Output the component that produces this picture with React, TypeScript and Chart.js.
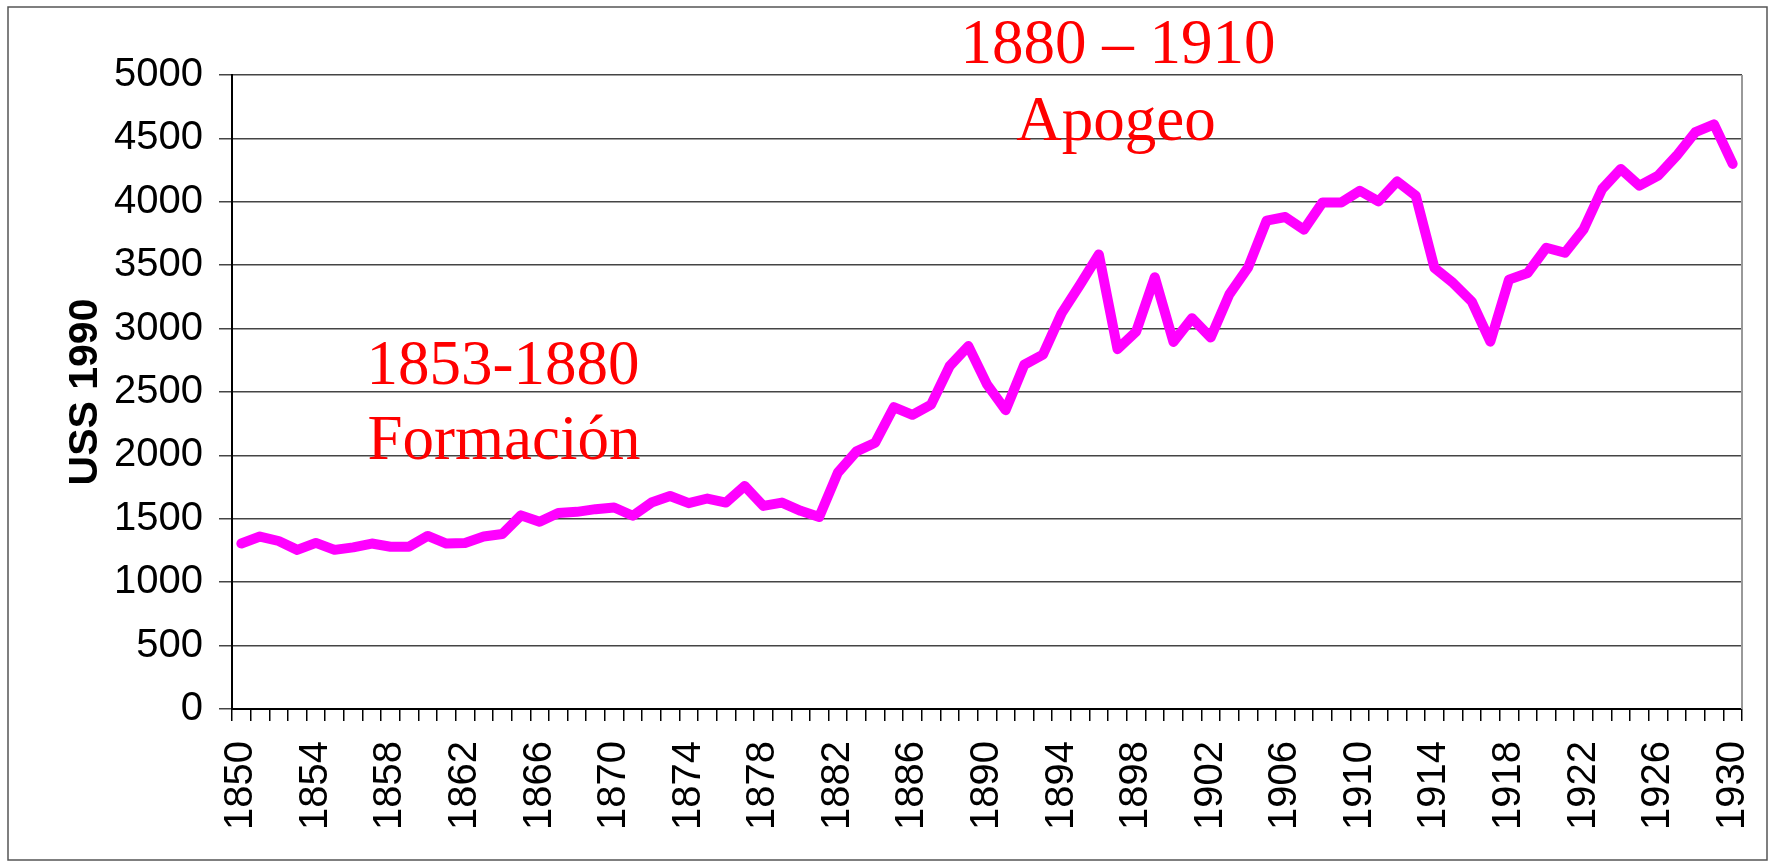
import React, { useEffect, useRef } from "react";
import { Chart, registerables } from "chart.js";

Chart.register(...registerables);

const years: number[] = [];
for (let y = 1850; y <= 1930; y++) years.push(y);

const gdpPerCapita: number[] = [
  1305, 1360, 1325, 1255, 1310, 1255, 1275, 1305, 1280, 1280, // 1850-1859
  1365, 1305, 1310, 1360, 1380, 1527, 1476, 1545, 1555, 1576, // 1860-1869
  1589, 1524, 1628, 1680, 1623, 1660, 1628, 1759, 1602, 1628, // 1870-1879
  1563, 1515, 1864, 2032, 2100, 2380, 2320, 2400, 2705, 2862, // 1880-1889
  2560, 2357, 2715, 2795, 3120, 3348, 3585, 2838, 2977, 3405, // 1890-1899
  2895, 3082, 2930, 3270, 3480, 3852, 3880, 3780, 3995, 3995, // 1900-1909
  4087, 4003, 4161, 4048, 3479, 3360, 3214, 2897, 3386, 3439, // 1910-1919
  3638, 3598, 3783, 4101, 4259, 4127, 4206, 4365, 4550, 4611, // 1920-1929
  4299, // 1930
];

const yTicksMin = 0;
const yTicksMax = 5000;
const yTickStep = 500;
const xLabelEvery = 4;
const xLabelFirst = 1850;

const yAxisTitle = "USS 1990";
const annotationTexts = ["1880 – 1910", "Apogeo", "1853-1880", "Formación"];

const W = 1773;
const H = 863;

export default function App() {
  const ref = useRef<HTMLCanvasElement | null>(null);

  useEffect(() => {
    const canvas = ref.current;
    if (!canvas) return;

    const framePlugin = {
      id: "frame",
      beforeDraw(chart: any) {
        const ctx = chart.ctx;
        ctx.save();
        ctx.fillStyle = "#ffffff";
        ctx.fillRect(0, 0, W, H);
        ctx.strokeStyle = "#555";
        ctx.lineWidth = 1.5;
        ctx.strokeRect(8, 7, 1759, 853);
        ctx.restore();
      },
      afterDraw(chart: any) {
        const ctx = chart.ctx;
        const a = chart.chartArea;
        ctx.save();
        ctx.strokeStyle = "#999";
        ctx.lineWidth = 2;
        ctx.beginPath();
        ctx.moveTo(a.right, a.top);
        ctx.lineTo(a.right, a.bottom);
        ctx.stroke();
        ctx.fillStyle = "#ff0000";
        ctx.textAlign = "center";
        ctx.textBaseline = "alphabetic";
        ctx.font = '63px "Liberation Serif"';
        ctx.fillText(annotationTexts[0], 1118, 63);
        ctx.fillText(annotationTexts[1], 1116, 140);
        ctx.fillText(annotationTexts[2], 503, 384);
        ctx.fillText(annotationTexts[3], 504, 459);
        ctx.restore();
      },
    };

    const chart = new Chart(canvas, {
      type: "line",
      data: {
        labels: years.map(String),
        datasets: [
          {
            data: gdpPerCapita,
            borderColor: "#ff00ff",
            backgroundColor: "#ff00ff",
            borderWidth: 10,
            pointRadius: 0,
            tension: 0,
            borderJoinStyle: "round",
            borderCapStyle: "round",
            fill: false,
          },
        ],
      },
      options: {
        responsive: false,
        animation: false,
        layout: { padding: { left: 0, top: 75, right: 31, bottom: 0 } },
        plugins: {
          legend: { display: false },
          tooltip: { enabled: false },
        },
        scales: {
          x: {
            type: "category",
            offset: true,
            grid: {
              offset: true,
              drawOnChartArea: false,
              drawTicks: true,
              tickLength: 12,
              color: "#000",
              lineWidth: 1.5,
            },
            border: { color: "#000", width: 2 },
            ticks: {
              autoSkip: false,
              minRotation: 90,
              maxRotation: 90,
              padding: 20,
              color: "#000",
              font: { family: "Liberation Sans", size: 40 },
              callback: (_v: any, i: number) =>
                (years[i] - xLabelFirst) % xLabelEvery === 0 ? String(years[i]) : "",
            },
            afterFit: (s: any) => {
              s.height = H - 709;
              s.paddingLeft = 0;
              s.paddingRight = 0;
            },
          },
          y: {
            min: yTicksMin,
            max: yTicksMax,
            ticks: {
              stepSize: yTickStep,
              padding: 16,
              color: "#000",
              font: { family: "Liberation Sans", size: 40 },
              callback: (v: any) => String(v),
            },
            grid: { color: "#444", lineWidth: 1.5, tickLength: 13 },
            border: { color: "#000", width: 2 },
            title: {
              display: true,
              text: yAxisTitle,
              color: "#000",
              font: { family: "Liberation Sans", size: 41, weight: "bold" },
              padding: { top: 61, bottom: 0 },
            },
            afterFit: (s: any) => {
              s.width = 232;
              s.paddingTop = 0;
              s.paddingBottom = 0;
            },
          },
        },
      },
      plugins: [framePlugin],
    } as any);

    return () => chart.destroy();
  }, []);

  return (
    <div style={{ position: "fixed", left: 0, top: 0, width: W, height: H, background: "#fff" }}>
      <canvas ref={ref} width={W} height={H} style={{ display: "block", width: W, height: H }} />
    </div>
  );
}
